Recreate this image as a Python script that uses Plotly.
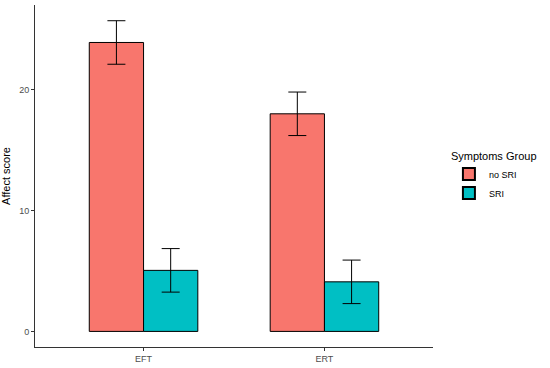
import plotly.graph_objects as go

categories = ["EFT", "ERT"]
groups = ["no SRI", "SRI"]
no_sri = [23.9, 18.0]
sri = [5.05, 4.1]
no_sri_err = [1.8, 1.8]
sri_err = [1.8, 1.8]
colors = ["#F8766D", "#00BFC4"]

fig = go.Figure()
for name, vals, errs, col in zip(groups, [no_sri, sri], [no_sri_err, sri_err], colors):
    fig.add_trace(go.Bar(
        x=categories, y=vals, name=name,
        marker=dict(color=col, line=dict(color="black", width=1)),
        error_y=dict(type="data", array=errs, color="black", thickness=1, width=9),
    ))

fig.update_layout(
    width=550, height=368,
    margin=dict(l=35, r=117, t=5, b=21),
    paper_bgcolor="white", plot_bgcolor="white",
    barmode="group", bargap=0.4, bargroupgap=0,
    font=dict(family="Liberation Sans, Arial, sans-serif", size=9, color="#4d4d4d"),
    showlegend=True,
    legend=dict(
        title=dict(text="Symptoms Group", font=dict(size=11, color="black")),
        font=dict(size=9, color="black"),
        x=1.04, y=0.59, xanchor="left", yanchor="top",
        tracegroupgap=0, itemsizing="constant",
    ),
    xaxis=dict(
        range=[-0.6, 1.6], showline=True, linecolor="#333333", linewidth=1,
        ticks="outside", ticklen=3, tickcolor="#333333", showgrid=False,
        tickfont=dict(size=9, color="#4d4d4d"),
    ),
    yaxis=dict(
        title=dict(text="Affect score", font=dict(size=11, color="black"), standoff=6),
        range=[-1.29, 27.0], showline=True, linecolor="#333333", linewidth=1,
        ticks="outside", ticklen=3, tickcolor="#333333", showgrid=False,
        tickvals=[0, 10, 20], zeroline=False,
        tickfont=dict(size=9, color="#4d4d4d"),
    ),
)

fig.write_html(
    "out.html",
    config={"displayModeBar": False},
    post_script="document.body.style.margin='0';document.body.style.overflow='hidden';",
)
